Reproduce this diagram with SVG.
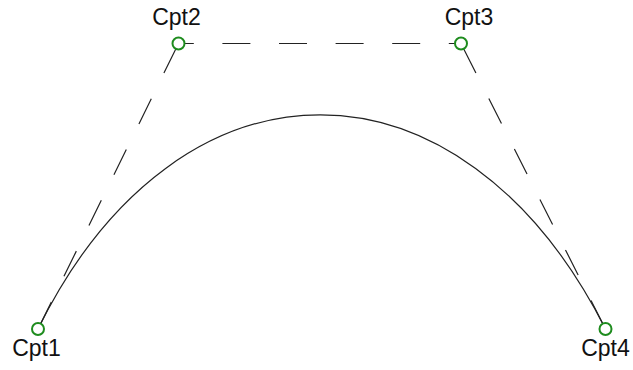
<svg xmlns="http://www.w3.org/2000/svg" width="633" height="370" viewBox="0 0 633 370">
<style>
.lbl{font-family:"Liberation Sans",Arial,sans-serif;font-size:23px;fill:#111}
.dash{fill:none;stroke:#222;stroke-width:1.2;stroke-dasharray:28 28.6}
.curve{fill:none;stroke:#222;stroke-width:1.2}
.pt{fill:#fff;stroke:#1e8c1e;stroke-width:2}
</style>
<rect width="633" height="370" fill="#fff"/>
<g id="connectors">
<line class="dash" x1="178.5" y1="43.5" x2="38" y2="329" stroke-dashoffset="-5"/>
<line class="dash" x1="178.5" y1="43.5" x2="461" y2="43.5" stroke-dashoffset="12.7"/>
<line class="dash" x1="461" y1="43.5" x2="605.5" y2="329" stroke-dashoffset="-5"/>
<path class="curve" d="M38,329 C178.5,43.5 461,43.5 605.5,329"/>
</g>
<g id="Cpt1">
<circle class="pt" cx="38" cy="329" r="6"/>
<text class="lbl" x="36.5" y="356" text-anchor="middle">Cpt1</text>
</g>
<g id="Cpt2">
<circle class="pt" cx="178.5" cy="43.5" r="6"/>
<text class="lbl" x="176.5" y="25" text-anchor="middle">Cpt2</text>
</g>
<g id="Cpt3">
<circle class="pt" cx="461" cy="43.5" r="6"/>
<text class="lbl" x="469" y="25" text-anchor="middle">Cpt3</text>
</g>
<g id="Cpt4">
<circle class="pt" cx="605.5" cy="329" r="6"/>
<text class="lbl" x="605.5" y="356" text-anchor="middle">Cpt4</text>
</g>
</svg>
